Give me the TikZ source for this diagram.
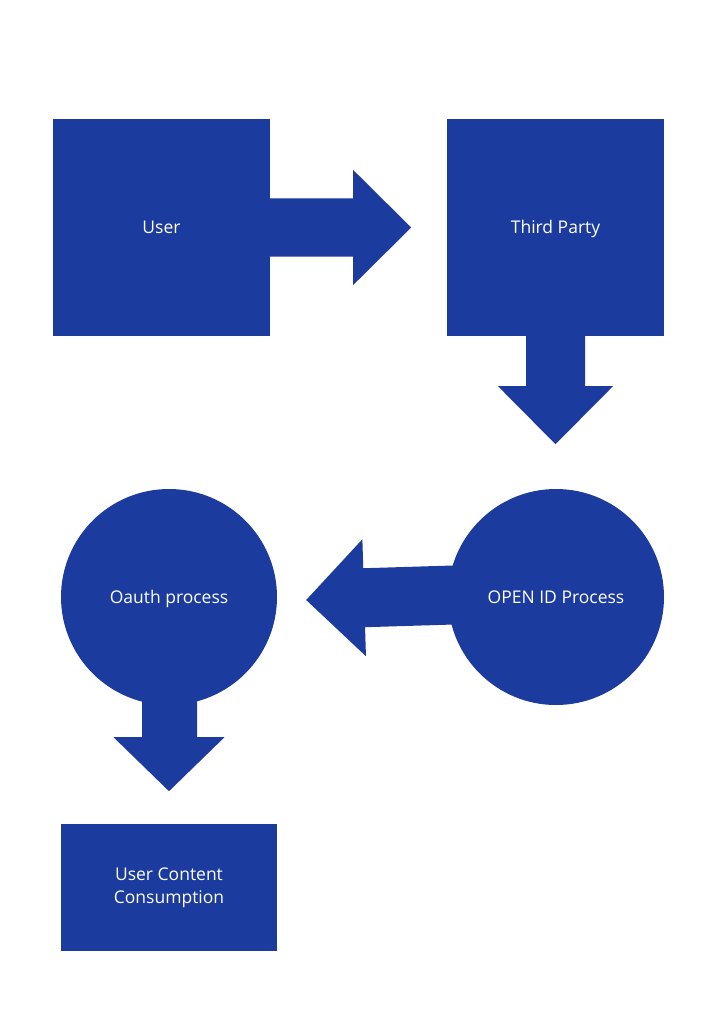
\documentclass[tikz,border=0pt]{standalone}
\usepackage{fontspec}
\setmainfont{Open Sans}
\usepackage{xcolor}
\usetikzlibrary{calc}
\definecolor{oblue}{RGB}{28,59,158}

\begin{document}
\begin{tikzpicture}[x=1pt, y=-1pt,
   box/.style={rectangle, fill=oblue, text=white, align=center, inner sep=0pt, font=\fontsize{17.5}{23}\selectfont},
   oneline/.style={text height=12.5pt, text depth=0pt},
   blob/.style={circle, fill=oblue, text=white, align=center, inner sep=0pt, minimum size=216pt, font=\fontsize{17.5}{23}\selectfont},
   blockarrow/.style={fill=oblue}]
   \useasboundingbox (0,0) rectangle (724,1024);

   \node [box, oneline, minimum size=217pt] (user) at (161.5 , 227.5) {User};
   \node [box, oneline, minimum size=217pt] (third) at (555.5 , 227.5) {Third Party};
   \node [blob, oneline] (openid) at (556 , 597) {OPEN ID Process};
   \node [blob, oneline] (oauth) at (169 , 597) {Oauth process};
   \node [box, minimum width=216pt, minimum height=127pt] (consume) at (169 , 887.5) {User Content\\Consumption};

   % user -> third party
   \begin{scope}[shift={(user.east)}]
      \fill [blockarrow] (0,-29) -- (83,-29) -- (83,-57.5) -- (141,0) -- (83,57.5) -- (83,29) -- (0,29) -- cycle;
   \end{scope}
   % third party -> open id
   \begin{scope}[shift={(third.south)}]
      \fill [blockarrow] (-29.5,0) -- (-29.5,50) -- (-57.5,50) -- (0,108) -- (57.5,50) -- (29.5,50) -- (29.5,0) -- cycle;
   \end{scope}
   % open id -> oauth
   \coordinate (lefttip) at ($(oauth.east)+(29,3)$);
   \begin{scope}[shift={(lefttip)}, rotate=1.75]
      \fill [blockarrow] (0,0) -- (58,-59) -- (58,-30) -- (160,-30) -- (160,29) -- (58,29) -- (58,58) -- cycle;
   \end{scope}
   % oauth -> consumption
   \begin{scope}[shift={(oauth.south)}]
      \fill [blockarrow] (-27,-5) -- (-27,32) -- (-55.5,32) -- (0,86) -- (55.5,32) -- (28,32) -- (28,-5) -- cycle;
   \end{scope}
\end{tikzpicture}
\end{document}
